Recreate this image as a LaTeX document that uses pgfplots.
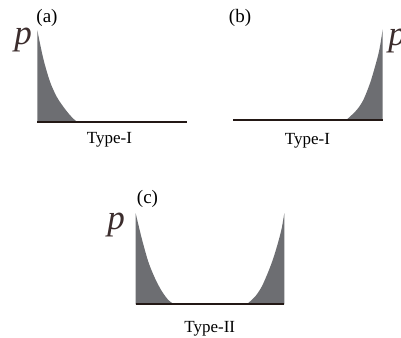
\documentclass[border=0pt]{standalone}
\usepackage{pgfplots}
\pgfplotsset{compat=1.18}
\usepackage{fontspec}
\setmainfont{Liberation Serif}
\definecolor{fillgray}{RGB}{109,110,114}
\definecolor{baseblk}{RGB}{35,24,21}
\definecolor{pcol}{RGB}{60,45,45}
\begin{document}
\begin{tikzpicture}[x=1pt,y=1pt]
\useasboundingbox (0,0) rectangle (401,337);
\pgfplotsset{panel/.style={hide axis, clip=false, x=1pt, y=1pt, ymin=0, ymax=92, xmin=0, anchor=south west}}
% (a)
\begin{axis}[panel, xmax=150, at={(37.3pt,215.3pt)}]
\addplot[fill=fillgray, draw=none, smooth] coordinates {
(0,91.5) (6,63) (12.7,40) (19.4,25) (26,15) (32.7,6.5) (37.7,1.5) (40,0)} \closedcycle;
\addplot[baseblk, line width=2pt] coordinates {(0,0) (150,0)};
\end{axis}
% (b)
\begin{axis}[panel, xmax=150, at={(233pt,217pt)}]
\addplot[fill=fillgray, draw=none, smooth] coordinates {
(112,0) (114,0.7) (123.7,10) (130.3,20) (137,36.7) (142,53.3) (146.3,70) (149.7,90.7)} -- (axis cs:149.7,0) -- cycle;
\addplot[baseblk, line width=2pt] coordinates {(0,0) (150,0)};
\end{axis}
% (c)
\begin{axis}[panel, xmax=148.6, at={(135.7pt,32.7pt)}]
\addplot[fill=fillgray, draw=none, smooth] coordinates {
(0,91) (6,66) (12.6,42.6) (19.3,26) (26,13.3) (32.6,4.3) (37.6,0.6) (39,0)} \closedcycle;
\addplot[fill=fillgray, draw=none, smooth] coordinates {
(111,0) (119.3,7.6) (126,17.6) (132.6,32.6) (137.6,46) (142.6,62.6) (146,76) (148.6,91)} -- (axis cs:148.6,0) -- cycle;
\addplot[baseblk, line width=2pt] coordinates {(0,0) (148.6,0)};
\end{axis}
% texts
\node[anchor=base, font=\fontsize{17}{20}\selectfont] at (109.5,193.5) {Type-I};
\node[anchor=base, font=\fontsize{17}{20}\selectfont] at (307.5,192.4) {Type-I};
\node[anchor=base, font=\fontsize{17}{20}\selectfont] at (209.7,4.3) {Type-II};
\node[inner sep=0, font=\fontsize{19}{22}\selectfont] at (47,319) {(a)};
\node[inner sep=0, font=\fontsize{19}{22}\selectfont] at (240,319.5) {(b)};
\node[inner sep=0, font=\fontsize{19}{22}\selectfont] at (147.5,138.5) {(c)};
\node[inner sep=0, text=pcol, font=\fontsize{35}{40}\selectfont\itshape] at (23,297) {p};
\node[inner sep=0, text=pcol, font=\fontsize{35}{40}\selectfont\itshape] at (397,296) {p};
\node[inner sep=0, text=pcol, font=\fontsize{35}{40}\selectfont\itshape] at (116,112) {p};
\end{tikzpicture}
\end{document}
